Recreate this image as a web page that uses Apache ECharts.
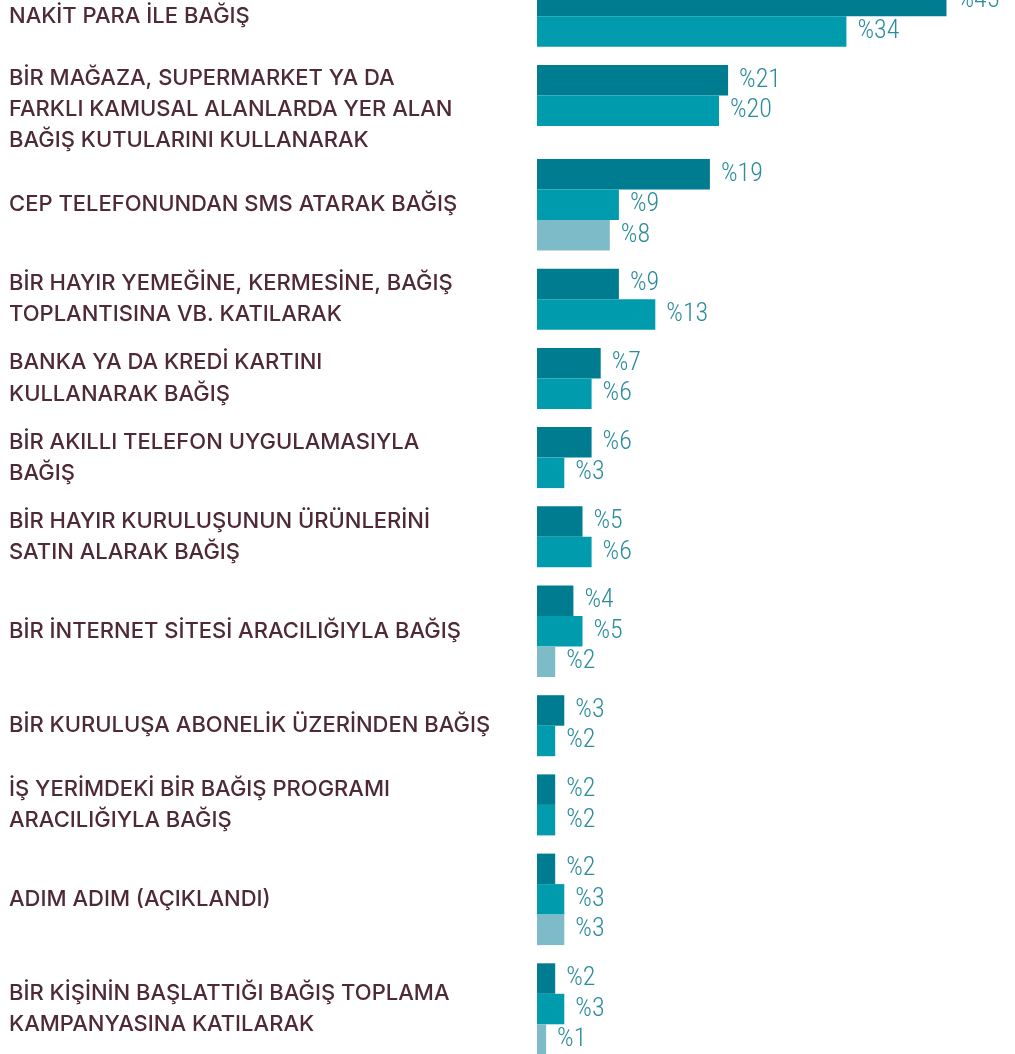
<!DOCTYPE html>
<html>
<head>
<meta charset="utf-8">
<script src="https://cdn.jsdelivr.net/npm/echarts@6/dist/echarts.min.js"></script>
<style>
  html, body { margin: 0; padding: 0; background: #ffffff; }
  #chart { width: 1015px; height: 1054px; }
</style>
</head>
<body>
<div id="chart"></div>
<script>
// Donation channels (line breaks follow the printed wrapping)
const categories = [
  'NAKİT PARA İLE BAĞIŞ',
  'BİR MAĞAZA, SUPERMARKET YA DA\nFARKLI KAMUSAL ALANLARDA YER ALAN\nBAĞIŞ KUTULARINI KULLANARAK',
  'CEP TELEFONUNDAN SMS ATARAK BAĞIŞ',
  'BİR HAYIR YEMEĞİNE, KERMESİNE, BAĞIŞ\nTOPLANTISINA VB. KATILARAK',
  'BANKA YA DA KREDİ KARTINI\nKULLANARAK BAĞIŞ',
  'BİR AKILLI TELEFON UYGULAMASIYLA\nBAĞIŞ',
  'BİR HAYIR KURULUŞUNUN ÜRÜNLERİNİ\nSATIN ALARAK BAĞIŞ',
  'BİR İNTERNET SİTESİ ARACILIĞIYLA BAĞIŞ',
  'BİR KURULUŞA ABONELİK ÜZERİNDEN BAĞIŞ',
  'İŞ YERİMDEKİ BİR BAĞIŞ PROGRAMI\nARACILIĞIYLA BAĞIŞ',
  'ADIM ADIM (AÇIKLANDI)',
  'BİR KİŞİNİN BAŞLATTIĞI BAĞIŞ TOPLAMA\nKAMPANYASINA KATILARAK'
];

// Percentages per series; null = not asked for that channel
const series1 = [45, 21, 19, 9, 7, 6, 5, 4, 3, 2, 2, 2];
const series2 = [34, 20, 9, 13, 6, 3, 6, 5, 2, 2, 3, 3];
const series3 = [null, null, 8, null, null, null, null, 2, null, null, 3, 1];

const seriesColors = ['#007c91', '#009bad', '#7dbbc8'];

// Layout constants
const ROW = 30.5;      // height of one bar
const GAP = 18.2;      // space between groups
const LINE = 31.3;     // line height of category text
const LEFT = 537;      // x where bars start
const TEXT_X = 9;      // x where category text starts
const UNIT = 9.1;      // pixels per percentage point
const XMAX = 50;

const TEXT_COLOR = '#4e2a36';
const TEXT_FONT = 'Inter, "Noto Sans", sans-serif';
const VALUE_COLOR = '#2b8c9c';
const VALUE_FONT = "'Roboto Condensed', 'Open Sans Condensed', 'Liberation Sans Narrow', 'Open Sans', sans-serif";

const allSeries = [series1, series2, series3];
const grids = [], xAxes = [], yAxes = [], seriesList = [];

let groupTop = -14.3;
categories.forEach((name, i) => {
  const vals = allSeries
    .map((s, k) => ({ v: s[i], k }))
    .filter(d => d.v !== null && d.v !== undefined);
  const barsH = vals.length * ROW;
  const lines = name.split('\n').length;
  const textH = lines * LINE - 18;
  // tall text blocks hang from the top of the bars instead of centring
  const shift = Math.max(0, (lines * LINE - barsH) / 2 - 2.5);

  grids.push({
    left: LEFT, top: groupTop, width: XMAX * UNIT, height: barsH,
    containLabel: false, outerBoundsMode: 'none'
  });
  xAxes.push({
    type: 'value', gridIndex: i, min: 0, max: XMAX, show: false
  });
  yAxes.push({
    type: 'category', gridIndex: i, data: [name], inverse: true,
    axisLine: { show: false }, axisTick: { show: false }, splitLine: { show: false },
    axisLabel: {
      align: 'left', margin: LEFT - TEXT_X,
      formatter: v => v.split('\n').map(l => '{t|' + l + '}').join('\n'),
      padding: [2 * shift, 0, 0, 0],
      rich: {
        t: {
          fontFamily: TEXT_FONT, fontWeight: 500,
          fontSize: 22, lineHeight: LINE, color: TEXT_COLOR
        }
      }
    }
  });
  vals.forEach(d => {
    seriesList.push({
      type: 'bar', xAxisIndex: i, yAxisIndex: i,
      data: [d.v], barWidth: ROW, barGap: '0%',
      itemStyle: { color: seriesColors[d.k] },
      label: {
        show: true, position: 'right', distance: 11,
        formatter: '%{c}', color: VALUE_COLOR,
        fontFamily: VALUE_FONT, fontSize: 26, fontWeight: '300 condensed'
      },
      silent: true, animation: false
    });
  });
  groupTop += Math.max(barsH, textH) + GAP;
});

const chart = echarts.init(document.getElementById('chart'), null, { renderer: 'canvas', devicePixelRatio: 1 });
chart.setOption({
  backgroundColor: '#ffffff',
  animation: false,
  grid: grids,
  xAxis: xAxes,
  yAxis: yAxes,
  series: seriesList
});
</script>
</body>
</html>
